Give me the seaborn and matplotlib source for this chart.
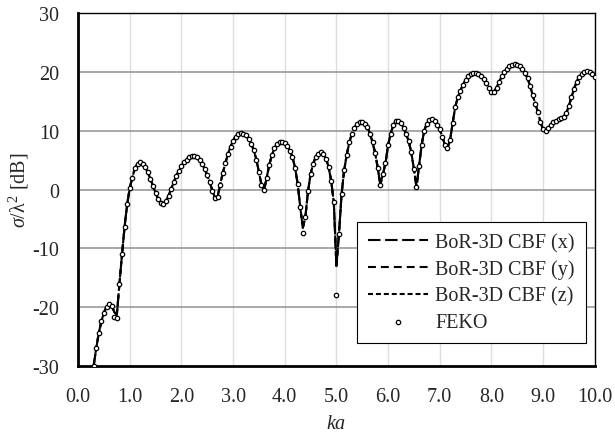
import numpy as np
import pandas as pd
import matplotlib
matplotlib.use("Agg")
import matplotlib.pyplot as plt
from matplotlib.ticker import MultipleLocator, FormatStrFormatter
import seaborn as sns

# ka grid (0.05 step from 0.30 to 10.00)
ka = np.round(np.arange(0.30, 10.001, 0.05), 2)

# BoR-3D CBF result (x, y, z excitations overlap in the figure)
cbf_db = [
    -30.0, -27.0, -24.4, -22.4, -20.9, -19.9, -19.5, -19.7, -20.8, -21.3,
    -16.0, -11.0, -6.3, -2.5,
    0.3, 2.0, 3.7, 4.4, 4.6, 4.4, 3.8, 2.9, 1.8, 0.6,
    -0.6, -1.6, -2.3, -2.5, -2.0, -1.1, 0.1, 1.2, 2.3, 3.2,
    4.0, 4.6, 5.1, 5.5, 5.7, 5.7, 5.5, 5.1, 4.4, 3.5,
    2.4, 1.2, -0.2, -1.4, -1.2, 0.8, 2.8, 4.5, 6.0, 7.3,
    8.3, 9.0, 9.4, 9.6, 9.5, 9.2, 8.6, 7.8, 6.7, 5.1,
    3.0, 0.8, -0.1, 2.0, 4.2, 5.8, 7.0, 7.7, 8.1, 8.1,
    7.9, 7.4, 6.6, 5.5, 3.7, 1.0, -3.0, -6.5, -4.6, -0.3,
    2.6, 4.4, 5.5, 6.1, 6.3, 6.0, 5.2, 3.8, 1.4, -2.2,
    -13.0, -7.5, -0.8, 3.3, 5.9, 8.0, 9.5, 10.5, 11.1, 11.4,
    11.4, 11.2, 10.6, 9.5, 8.0, 6.2, 3.7, 0.8, 2.6, 4.5,
    7.5, 9.5, 10.9, 11.6, 11.7, 11.3, 10.5, 9.4, 8.2, 6.3,
    3.5, 0.4, 4.0, 7.6, 10.0, 11.2, 11.8, 11.9, 11.6, 11.0,
    10.2, 9.0, 7.6, 7.0, 8.4, 11.3, 14.0, 15.7, 16.8, 17.8,
    18.6, 19.2, 19.6, 19.8, 19.8, 19.6, 19.2, 18.7, 18.1, 17.2,
    16.6, 16.6, 17.3, 18.3, 19.2, 19.9, 20.5, 20.9, 21.2, 21.3,
    21.2, 20.9, 20.4, 19.8, 18.9, 17.6, 16.0, 14.6, 13.2, 11.5,
    10.2, 9.9, 10.4, 11.0, 11.4, 11.7, 11.9, 12.1, 12.4, 13.0,
    14.2, 15.7, 17.1, 18.3, 19.1, 19.6, 20.0, 20.1, 20.0, 19.7,
    19.1,
]

# FEKO reference points (differ from CBF only at the deep nulls)
feko_db = list(cbf_db)
feko_db[8] = -21.6
feko_db[9] = -21.9
feko_db[81] = -7.3
feko_db[94] = -17.9

df = pd.DataFrame({"ka": ka, "cbf": cbf_db, "feko": feko_db})

sns.set_style("white")
plt.rcParams["font.family"] = ["Liberation Serif", "DejaVu Serif"]
plt.rcParams["mathtext.fontset"] = "custom"
plt.rcParams["mathtext.rm"] = "Liberation Serif"
plt.rcParams["mathtext.it"] = "Liberation Serif:italic"
plt.rcParams["axes.unicode_minus"] = False
fs = 14.5

fig, ax = plt.subplots(figsize=(6.15, 4.35), dpi=100)
fig.subplots_adjust(left=0.127, right=0.967, bottom=0.156, top=0.968)

sns.lineplot(data=df, x="ka", y="cbf", ax=ax, color="black", lw=1.5,
             linestyle=(0, (6, 2.2)), label="BoR-3D CBF (x)")
sns.lineplot(data=df, x="ka", y="cbf", ax=ax, color="black", lw=1.5,
             linestyle=(0, (3.8, 2.4)), label="BoR-3D CBF (y)")
sns.lineplot(data=df, x="ka", y="cbf", ax=ax, color="black", lw=1.5,
             linestyle=(0, (2.4, 1.4)), label="BoR-3D CBF (z)")
sns.scatterplot(data=df, x="ka", y="feko", ax=ax, marker="o", s=10,
                facecolor="white", edgecolor="black", linewidth=0.9,
                label="FEKO", zorder=3)

ax.set_xlim(0, 10)
ax.set_ylim(-30, 30)
ax.xaxis.set_major_locator(MultipleLocator(1))
ax.xaxis.set_minor_locator(MultipleLocator(0.2))
ax.yaxis.set_major_locator(MultipleLocator(10))
ax.yaxis.set_minor_locator(MultipleLocator(2))
ax.xaxis.set_major_formatter(FormatStrFormatter("%.1f"))
ax.tick_params(which="both", direction="in", top=False, right=False,
               labelsize=fs, width=1.2)
ax.tick_params(axis="y", pad=13.5)
ax.tick_params(axis="x", pad=15)
ax.tick_params(which="major", length=5)
ax.tick_params(which="minor", length=3)

ax.grid(False)
for v in range(1, 10):
    ax.axvline(v, color="#dddddd", lw=1, zorder=0)
for h in range(-20, 30, 10):
    ax.axhline(h, color="#999999", lw=1.2, zorder=0)

for side in ["left", "bottom"]:
    ax.spines[side].set_linewidth(2)
    ax.spines[side].set_color("black")
for side in ["top", "right"]:
    ax.spines[side].set_linewidth(1)
    ax.spines[side].set_color("black")

ax.set_xlabel("$ka$", fontsize=fs, labelpad=6)
ax.set_ylabel(r"$\sigma$/λ$^2$ [dB]", fontsize=fs, labelpad=1)

leg = ax.legend(loc="lower right", bbox_to_anchor=(0.983, 0.065),
                borderaxespad=0, fancybox=False, framealpha=1,
                edgecolor="black", handlelength=3.0, handletextpad=0.35,
                fontsize=fs, labelspacing=0.36, borderpad=0.55)
leg.get_frame().set_linewidth(0.8)

fig.savefig("out.png", dpi=100)
